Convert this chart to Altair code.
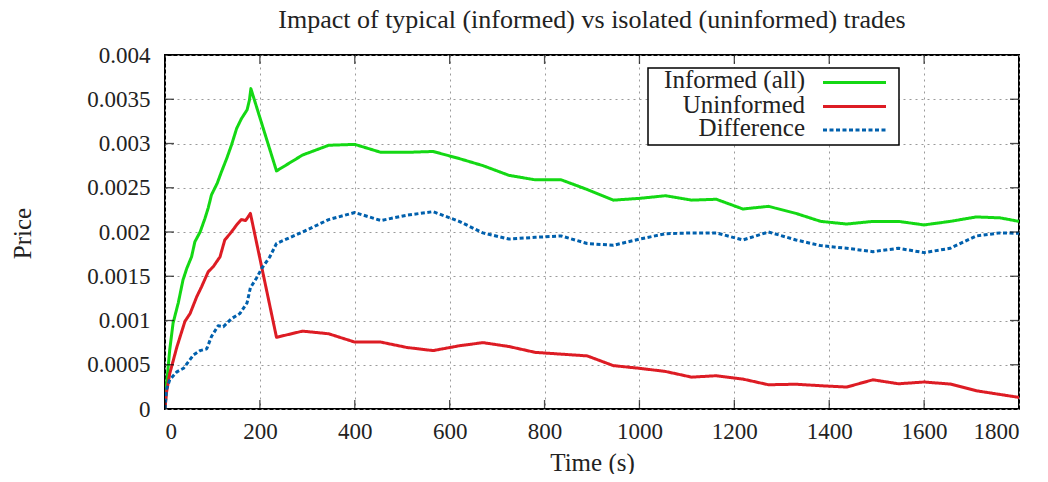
import altair as alt
import pandas as pd

# ---------------- data ----------------
names = ["Informed (all)", "Uninformed", "Difference"]
colors = ["#14d814", "#dd1c24", "#0060ad"]
dashes = [[1, 0], [1, 0], [4, 2.5]]

informed_t = [0, 3, 10, 17, 28, 38, 46, 56, 63, 74, 84, 91, 98, 110, 119, 130, 140, 151, 161, 173, 178, 181,
              235, 290, 345, 400, 455, 510, 565, 620, 670, 725, 780, 835, 890, 945, 1000, 1055, 1110, 1162,
              1218, 1272, 1330, 1382, 1437, 1492, 1546, 1600, 1655, 1710, 1760, 1800]
informed_v = [0, 0.00026, 0.00067, 0.00097, 0.0012, 0.00146, 0.00159, 0.00172, 0.00189, 0.002, 0.00215, 0.00227,
              0.00242, 0.00255, 0.00268, 0.00283, 0.00298, 0.00317, 0.00328, 0.00338, 0.00349, 0.00362,
              0.00269, 0.00287, 0.00298, 0.00299, 0.0029, 0.0029, 0.00291, 0.00283, 0.00275, 0.00264, 0.00259,
              0.00259, 0.00248, 0.00236, 0.00238, 0.00241, 0.00236, 0.00237, 0.00226, 0.00229, 0.00221, 0.00212,
              0.00209, 0.00212, 0.00212, 0.00208, 0.00212, 0.00217, 0.00216, 0.00212]

uninformed_t = [0, 3, 10, 25, 42, 53, 67, 77, 91, 102, 116, 126, 140, 151, 161, 170, 180,
                235, 290, 345, 400, 455, 510, 565, 620, 670, 725, 780, 835, 890, 945, 1000, 1055, 1110, 1162,
                1218, 1272, 1330, 1382, 1437, 1492, 1546, 1600, 1655, 1710, 1800]
uninformed_v = [0, 0.00018, 0.0004, 0.0007, 0.00099, 0.00108, 0.00127, 0.00138, 0.00155, 0.00161, 0.00172,
                0.00191, 0.002, 0.00208, 0.00214, 0.00213, 0.00221,
                0.00081, 0.00088, 0.00085, 0.000756, 0.000756, 0.000695, 0.00066, 0.000714, 0.00075, 0.000706,
                0.00064, 0.00062, 0.0006, 0.00049, 0.00046, 0.000424, 0.00036, 0.000376, 0.000338, 0.000274,
                0.00028, 0.000263, 0.000248, 0.00033, 0.000285, 0.000305, 0.000282, 0.000206, 0.000131]

difference_t = [0, 3, 10, 25, 39, 60, 74, 88, 98, 112, 123, 140, 158, 173, 180, 193, 204, 221,
                235, 290, 345, 400, 455, 510, 565, 620, 670, 725, 780, 835, 890, 945, 1000, 1055, 1110, 1162,
                1218, 1272, 1330, 1382, 1437, 1492, 1546, 1600, 1655, 1710, 1760, 1800]
difference_v = [0, 0.00022, 0.00033, 0.00042, 0.00046, 0.00061, 0.00066, 0.00068, 0.00082, 0.00094, 0.00093,
                0.00102, 0.00108, 0.0012, 0.00137, 0.00148, 0.00159, 0.00172,
                0.00187, 0.002, 0.00214, 0.00222, 0.00213, 0.00219, 0.00223, 0.00212, 0.00199, 0.00192, 0.00194,
                0.001955, 0.00187, 0.00185, 0.00192, 0.00198, 0.00199, 0.00199, 0.00191, 0.002, 0.00191,
                0.001846, 0.001816, 0.001778, 0.001816, 0.001767, 0.001816, 0.001955, 0.00199, 0.001985]

x_ticks = [0, 200, 400, 600, 800, 1000, 1200, 1400, 1600, 1800]
y_ticks = [0, 0.0005, 0.001, 0.0015, 0.002, 0.0025, 0.003, 0.0035, 0.004]

# ---------------- build table ----------------
rows = []
for name, ts, vs in [(names[0], informed_t, informed_v),
                     (names[1], uninformed_t, uninformed_v),
                     (names[2], difference_t, difference_v)]:
    for i, (t, v) in enumerate(zip(ts, vs)):
        rows.append({"series": name, "t": t, "v": v, "idx": i})
df = pd.DataFrame(rows)

FONT = "Liberation Serif"
W, H = 854, 354

xscale = alt.Scale(domain=[0, 1800], nice=False, zero=False)
yscale = alt.Scale(domain=[0, 0.004], nice=False)
xaxis = alt.Axis(values=x_ticks, title="Time (s)", grid=True, ticks=False, domain=False,
                 labelPadding=11, titleY=61, titleBaseline="alphabetic", format="d")
yaxis = alt.Axis(values=y_ticks, title="Price", grid=True, ticks=False, domain=False,
                 labelPadding=15, format=".4~f", titleX=-143, titleY=H / 2 + 1,
                 titleAlign="center", titleBaseline="middle", titleAngle=-90)

lines = alt.Chart(df).mark_line(strokeWidth=3, clip=True, strokeJoin="round").encode(
    x=alt.X("t:Q", scale=xscale, axis=xaxis),
    y=alt.Y("v:Q", scale=yscale, axis=yaxis),
    color=alt.Color("series:N", scale=alt.Scale(domain=names, range=colors), legend=None),
    strokeDash=alt.StrokeDash("series:N", scale=alt.Scale(domain=names, range=dashes), legend=None),
    order="idx:Q",
    detail="series:N",
)

# inward (mirrored) tick marks, as gnuplot draws them
xt = pd.DataFrame({"t": x_ticks})
yt = pd.DataFrame({"v": y_ticks})
tick_top = alt.Chart(xt).mark_tick(orient="vertical", size=18, thickness=1.3, color="black", clip=True).encode(
    x=alt.X("t:Q", scale=xscale, axis=xaxis), y=alt.value(0))
tick_bot = alt.Chart(xt).mark_tick(orient="vertical", size=18, thickness=1.3, color="black", clip=True).encode(
    x=alt.X("t:Q", scale=xscale, axis=xaxis), y=alt.value(H))
tick_left = alt.Chart(yt).mark_tick(orient="horizontal", size=18, thickness=1.3, color="black", clip=True).encode(
    y=alt.Y("v:Q", scale=yscale, axis=yaxis), x=alt.value(0))
tick_right = alt.Chart(yt).mark_tick(orient="horizontal", size=18, thickness=1.3, color="black", clip=True).encode(
    y=alt.Y("v:Q", scale=yscale, axis=yaxis), x=alt.value(W))

# gnuplot-style key (label right-aligned, sample line to the right)
one = pd.DataFrame({"a": [0]})
key_box = alt.Chart(one).mark_rect(fill="white", stroke="black", strokeWidth=1.5).encode(
    x=alt.value(483), x2=alt.value(734), y=alt.value(13), y2=alt.value(90))
key_layers = [key_box]
text_y = [33, 57.5, 80.5]
line_y = [27.5, 51.5, 75]
for name, col, dsh, ty, ly in zip(names, colors, dashes, text_y, line_y):
    key_layers.append(alt.Chart(one).mark_text(align="right", baseline="alphabetic", font=FONT, fontSize=25,
                                               color="#222222").encode(
        x=alt.value(640), y=alt.value(ty), text=alt.value(name)))
    key_layers.append(alt.Chart(one).mark_rule(strokeWidth=3, color=col, strokeDash=dsh).encode(
        x=alt.value(658), x2=alt.value(721), y=alt.value(ly)))

chart = alt.layer(lines, tick_top, tick_bot, tick_left, tick_right, *key_layers).properties(
    width=W, height=H,
    title=alt.TitleParams("Impact of typical (informed) vs isolated (uninformed) trades",
                          font=FONT, fontSize=26, fontWeight="normal", color="#222222",
                          anchor="middle", frame="group", offset=11),
    autosize=alt.AutoSizeParams(type="none"),
    padding={"left": 157, "top": 47, "right": 20, "bottom": 65},
).configure_view(stroke="black", strokeWidth=2).configure_axis(
    labelFont=FONT, labelFontSize=23, labelColor="#222222",
    titleFont=FONT, titleFontSize=25, titleFontWeight="normal", titleColor="#222222",
    gridColor="#9a9a9a", gridDash=[2, 4], gridWidth=1, gridOpacity=1,
)

chart.save("out.html", embed_options={"renderer": "svg", "actions": False})
